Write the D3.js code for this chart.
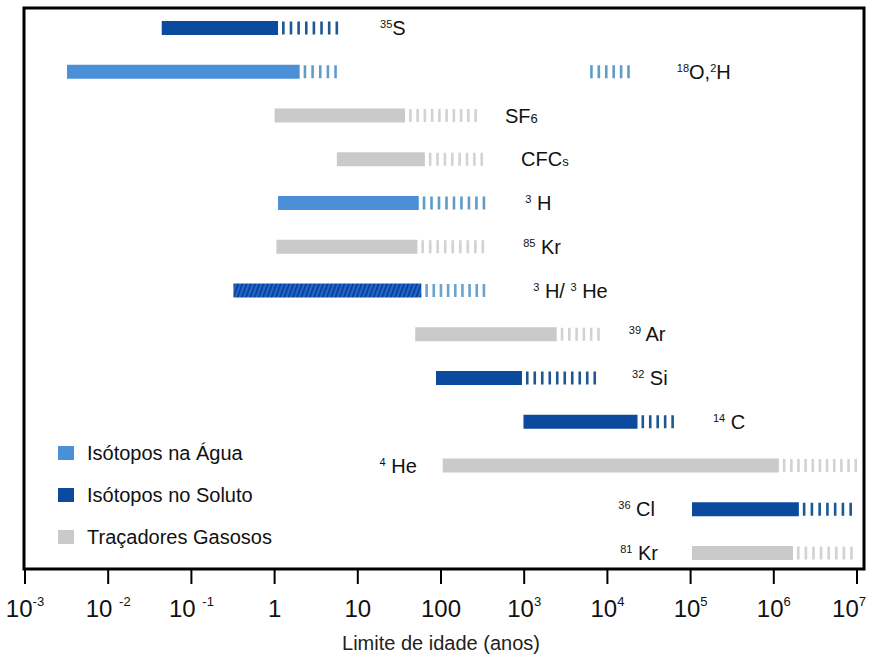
<!DOCTYPE html>
<html>
<head>
<meta charset="utf-8">
<script src="https://cdn.jsdelivr.net/npm/d3@7"></script>
<style>
  html, body { margin: 0; padding: 0; background: #fff; }
  svg { display: block; font-family: "Liberation Sans", Arial, sans-serif; }
</style>
</head>
<body>
<svg id="chart" width="869" height="656"></svg>
<script>
// Tracer age ranges (years): solid bar = reliable range, dashed tail = extended range
const tracers = ["35S", "18O2H", "SF6", "CFCs", "3H", "85Kr", "3H3He", "39Ar", "32Si", "14C", "4He", "36Cl", "81Kr"];
const tracerGroup = ["soluto", "agua", "gas", "gas", "agua", "gas", "misto", "gas", "soluto", "soluto", "gas", "soluto", "gas"];
const solidStart = [0.044, 0.0032, 1.0, 5.6, 1.1, 1.05, 0.32, 49, 87, 980, 105, 1.04e5, 1.04e5];
const solidEnd   = [1.1, 2.0, 37, 64, 54, 52, 58, 2460, 940, 23000, 1.15e6, 2.0e6, 1.7e6];
const dashEnd    = [5.8, 5.6, 270, 320, 340, 330, 340, 8100, 7300, 63000, 1.0e7, 8.7e6, 8.9e6];
// Isolated dashed range for 18O / 2H
const extraDashTracer = ["18O2H"];
const extraDashFrom = [6200];
const extraDashTo = [18600];

// Labels as [superscript, main] pieces ("sub" prefix = small trailing character)
const tracerLabel = [
  [["35", "S"]],
  [["18", "O,"], ["2", "H"]],
  [["", "SF"], ["sub6", ""]],
  [["", "CFC"], ["subs", ""]],
  [["3", " H"]],
  [["85", " Kr"]],
  [["3", " H/ "], ["3", " He"]],
  [["39", " Ar"]],
  [["32", " Si"]],
  [["14", " C"]],
  [["4", " He"]],
  [["36", " Cl"]],
  [["81", " Kr"]]
];

const legendGroups = ["agua", "soluto", "gas"];
const legendNames = ["Isótopos na Água", "Isótopos no Soluto", "Traçadores Gasosos"];

const tickValues = [1e-3, 1e-2, 1e-1, 1, 10, 100, 1e3, 1e4, 1e5, 1e6, 1e7];
const tickBase = ["10", "10 ", "10 ", "1", "10", "100", "10", "10", "10", "10", "10"];
const tickExp = ["-3", "-2", "-1", "", "", "", "3", "4", "5", "6", "7"];
const axisTitle = "Limite de idade (anos)";

// ---- layout / style ----
const frame = { left: 24, right: 864, top: 8, bottom: 569 };
const barH = 14;
const dashStep = 6.9, dashW = 2.6;
const fill = { agua: "#4a8fd8", soluto: "#0b4a9c", gas: "#cacaca", misto: "#2166d2" };
const dashFill = { agua: "#5f9cc6", soluto: "#1d5892", gas: "#d2d2d2", misto: "#6aa3cc" };
// label placement: side ("r" after the dashed tail, "l" before the bar) and pixel gap
const labelSide = ["r", "r", "r", "r", "r", "r", "r", "r", "r", "r", "l", "l", "l"];
const labelGap = [42, 47, 28, 38, 40, 39, 48, 29, 36, 39, 26, 37, 34];
const labelSize = 20, supSize = 11;

const svg = d3.select("#chart");
const x = d3.scaleLog().domain([1e-3, 1e7]).range([25, 857]);
const y = d3.scalePoint().domain(tracers).range([28, 553]);

// hatch pattern for the combined 3H/3He method
const defs = svg.append("defs");
const pat = defs.append("pattern")
  .attr("id", "hatch").attr("patternUnits", "userSpaceOnUse")
  .attr("width", 4).attr("height", 4)
  .attr("patternTransform", "rotate(20)");
pat.append("rect").attr("width", 4).attr("height", 4).attr("fill", fill.misto);
pat.append("rect").attr("width", 1.6).attr("height", 4).attr("fill", "#0a3a86");

// frame
svg.append("rect")
  .attr("x", frame.left).attr("y", frame.top)
  .attr("width", frame.right - frame.left).attr("height", frame.bottom - frame.top)
  .attr("fill", "none").attr("stroke", "#000").attr("stroke-width", 3);

const rows = tracers.map((t, i) => ({
  t, g: tracerGroup[i], s: solidStart[i], e: solidEnd[i], d: dashEnd[i],
  label: tracerLabel[i], side: labelSide[i], gap: labelGap[i]
}));

function dashes(x0, x1) {
  const out = [];
  const n = Math.max(1, Math.round((x1 - x0) / dashStep));
  const step = (x1 - x0 - dashW) / Math.max(1, n - 1);
  for (let k = 0; k < n; k++) out.push(x0 + k * step);
  return out;
}

const g = svg.append("g");
rows.forEach(r => {
  const cy = y(r.t);
  g.append("rect")
    .attr("x", x(r.s)).attr("y", cy - barH / 2)
    .attr("width", x(r.e) - x(r.s)).attr("height", barH)
    .attr("fill", r.g === "misto" ? "url(#hatch)" : fill[r.g]);
  const d0 = x(r.e) + 4, d1 = x(r.d);
  g.selectAll(null).data(dashes(d0, d1)).enter().append("rect")
    .attr("x", d => d).attr("y", cy - barH / 2 + 0.5)
    .attr("width", dashW).attr("height", barH - 1)
    .attr("fill", dashFill[r.g]);
});

extraDashTracer.forEach((t, i) => {
  const r = rows.find(o => o.t === t);
  const cy = y(t);
  g.selectAll(null).data(dashes(x(extraDashFrom[i]), x(extraDashTo[i]))).enter().append("rect")
    .attr("x", d => d).attr("y", cy - barH / 2 + 0.5)
    .attr("width", dashW).attr("height", barH - 1)
    .attr("fill", dashFill[r.g]);
});

// tracer labels
rows.forEach(r => {
  const cy = y(r.t);
  let anchorX;
  if (r.side === "r") {
    const extra = extraDashTracer.indexOf(r.t);
    const end = extra >= 0 ? x(extraDashTo[extra]) : x(r.d);
    anchorX = end + r.gap;
  } else {
    anchorX = x(r.s) - r.gap;
  }
  const txt = g.append("text")
    .attr("x", anchorX).attr("y", cy + 7)
    .attr("font-size", labelSize).attr("fill", "#111")
    .attr("text-anchor", r.side === "r" ? "start" : "end");
  r.label.forEach(([sup, main]) => {
    if (sup.startsWith("sub")) {
      txt.append("tspan").attr("font-size", 13).text(sup.slice(3));
    } else {
      if (sup) txt.append("tspan").attr("font-size", supSize).attr("dy", -7).text(sup);
      if (main) txt.append("tspan").attr("dy", sup ? 7 : 0).text(main);
    }
  });
});

// legend
const lg = svg.append("g");
legendGroups.forEach((k, i) => {
  const ly = 453 + i * 42;
  lg.append("rect").attr("x", 58).attr("y", ly - 7).attr("width", 16).attr("height", 14)
    .attr("fill", fill[k]);
  lg.append("text").attr("x", 87).attr("y", ly + 7)
    .attr("font-size", 20).attr("fill", "#111").text(legendNames[i]);
});

// bottom axis
const ax = svg.append("g").attr("transform", `translate(0,${frame.bottom})`);
ax.selectAll("line").data(tickValues).enter().append("line")
  .attr("x1", d => x(d)).attr("x2", d => x(d))
  .attr("y1", 0).attr("y2", 15)
  .attr("stroke", "#000").attr("stroke-width", 2);
tickValues.forEach((v, i) => {
  const last = i === tickValues.length - 1;
  const t = ax.append("text")
    .attr("x", last ? 866 : x(v)).attr("y", 48)
    .attr("text-anchor", last ? "end" : "middle")
    .attr("font-size", 24).attr("fill", "#111");
  t.append("tspan").text(tickBase[i]);
  if (tickExp[i]) t.append("tspan").attr("font-size", 13).attr("dy", -11).text(tickExp[i]);
});
svg.append("text")
  .attr("x", x(100)).attr("y", 650)
  .attr("text-anchor", "middle").attr("font-size", 20).attr("fill", "#222")
  .text(axisTitle);
</script>
</body>
</html>
